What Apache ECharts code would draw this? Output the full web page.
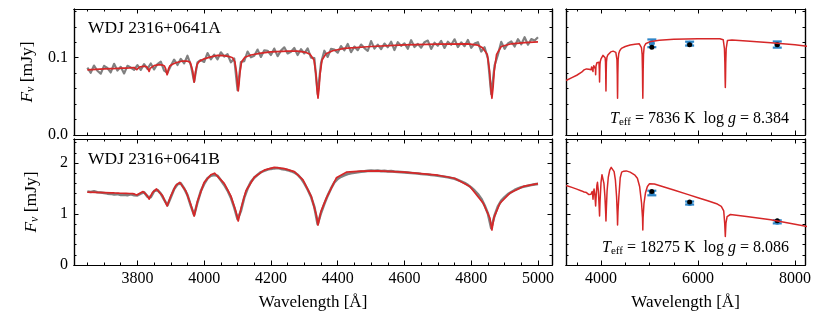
<!DOCTYPE html>
<html><head><meta charset="utf-8">
<script src="https://cdn.jsdelivr.net/npm/echarts@6/dist/echarts.min.js"></script>
<style>html,body{margin:0;padding:0;background:#fff}#c{width:830px;height:312px}</style>
</head><body><div id="c"></div>
<script>
const FONT = '"Liberation Serif", "DejaVu Serif", serif';

// ---------- DATA ----------
const labelA = 'WDJ 2316+0641A';
const labelB = 'WDJ 2316+0641B';
const fitA = { teff: '7836', logg: '8.384' };
const fitB = { teff: '18275', logg: '8.086' };

// observed spectra, wavelength grid 3650..5000 A, step 10 A
const obsWaveStart = 3650, obsWaveStep = 10;
const obsFluxA = [
 .0872,.0805,.0898,.0831,.0793,.0895,.0867,.0809,.0921,.0833,
 .0882,.0796,.0895,.0872,.0844,.0905,.0842,.0917,.0855,.0925,
 .0848,.0918,.0950,.0833,.0805,.0895,.0975,.0905,.0985,.0927,
 .1025,.0905,.0690,.0940,.0970,.0945,.1060,.0980,.1040,.0980,
 .1070,.1015,.1045,.0940,.0990,.0580,.0945,.0955,.1080,.1005,
 .1025,.1105,.1010,.1095,.1090,.1035,.1118,.1020,.1092,.1134,
 .1055,.1076,.1126,.1035,.1110,.1055,.1120,.1000,.0995,.0530,
 .0930,.1090,.1010,.1115,.1105,.1065,.1150,.1095,.1178,.1071,
 .1144,.1097,.1170,.1124,.1088,.1215,.1117,.1169,.1111,.1183,
 .1135,.1207,.1099,.1201,.1153,.1185,.1116,.1227,.1138,.1179,
 .1130,.1201,.1222,.1113,.1194,.1155,.1216,.1126,.1207,.1167,
 .1238,.1138,.1199,.1149,.1230,.1128,.1182,.1200,.1080,.1135,
 .0990,.0530,.0900,.1040,.1205,.1115,.1185,.1210,.1145,.1240,
 .1173,.1265,.1168,.1240,.1223,.1265];
const obsFluxB = [
 1.44,1.43,1.445,1.425,1.42,1.41,1.40,1.395,1.385,1.39,
 1.375,1.38,1.37,1.385,1.37,1.365,1.40,1.425,1.34,1.33,
 1.45,1.47,1.40,1.28,1.17,1.33,1.49,1.585,1.60,1.50,
 1.37,1.16,0.98,1.23,1.45,1.59,1.70,1.75,1.765,1.75,
 1.66,1.57,1.46,1.32,1.13,0.90,1.06,1.32,1.50,1.63,
 1.71,1.77,1.82,1.845,1.87,1.885,1.895,1.90,1.885,1.875,
 1.86,1.84,1.815,1.77,1.70,1.60,1.48,1.34,1.14,0.80,
 1.02,1.20,1.36,1.50,1.62,1.69,1.73,1.76,1.785,1.80,
 1.81,1.82,1.83,1.835,1.845,1.85,1.845,1.85,1.84,1.845,
 1.835,1.84,1.83,1.825,1.82,1.815,1.81,1.805,1.80,1.795,
 1.785,1.78,1.775,1.765,1.76,1.75,1.74,1.73,1.72,1.705,
 1.69,1.665,1.64,1.61,1.57,1.52,1.46,1.39,1.30,1.17,
 1.01,0.72,0.97,1.15,1.26,1.33,1.39,1.43,1.47,1.50,
 1.525,1.54,1.555,1.57,1.58,1.59];

// model spectra [wavelength, flux]
const modelA = [
 [3280,0.0705],[3400,0.0742],[3500,0.0773],[3600,0.0812],[3650,0.0842],[3700,0.0855],
 [3722,0.0858],[3725,0.0850],[3728,0.0859],[3734,0.0860],[3737,0.0850],[3740,0.0862],
 [3746,0.0863],[3750,0.0851],[3754,0.0864],[3766,0.0866],[3771,0.0850],[3776,0.0868],
 [3790,0.0873],[3795,0.0865],[3798,0.0845],[3801,0.0866],[3806,0.0880],[3822,0.0890],
 [3828,0.0883],[3832,0.0862],[3835,0.0822],[3838,0.0862],[3842,0.0885],[3850,0.0897],
 [3865,0.0910],[3875,0.0905],[3881,0.0893],[3885,0.0852],[3887,0.0808],[3889,0.0779],
 [3891,0.0808],[3893,0.0852],[3897,0.0893],[3905,0.0915],[3915,0.0935],[3935,0.0957],
 [3950,0.0955],[3958,0.0940],[3961,0.0915],[3965.5,0.0830],[3968,0.0745],[3970,0.0685],
 [3972,0.0745],[3974.5,0.0830],[3979,0.0915],[3985,0.0950],[4000,0.0985],[4020,0.1010],
 [4040,0.1030],[4060,0.1027],[4075,0.1015],[4085,0.1000],[4092,0.0946],[4097,0.0805],
 [4099.5,0.0665],[4102,0.0570],[4104.5,0.0665],[4107,0.0805],[4112,0.0946],[4122,0.1005],
 [4140,0.1035],[4170,0.1060],[4200,0.1075],[4250,0.1085],[4280,0.1085],[4305,0.1068],
 [4317,0.1045],[4329,0.0971],[4335,0.0785],[4338,0.0599],[4341,0.0476],[4344,0.0599],
 [4347,0.0785],[4353,0.0971],[4365,0.1050],[4385,0.1090],[4420,0.1120],[4500,0.1145],
 [4600,0.1165],[4700,0.1175],[4790,0.1180],[4820,0.1162],[4834,0.1130],[4848,0.1043],
 [4855,0.0830],[4858.5,0.0617],[4862,0.0475],[4865.5,0.0617],[4869,0.0830],[4876,0.1043],
 [4890,0.1145],[4920,0.1180],[4960,0.1195],[5000,0.1205],[5200,0.1225],[5500,0.1238],
 [6000,0.1245],[6450,0.1245],[6520,0.1232],[6545,0.1118],[6554,0.0930],[6558.5,0.0741],
 [6563,0.0615],[6567.5,0.0741],[6572,0.0930],[6581,0.1118],[6606,0.1222],[6700,0.1228],
 [7000,0.1215],[7500,0.1192],[8000,0.1168],[8250,0.1148]];
const modelB = [
 [3280,1.560],[3400,1.522],[3500,1.488],[3600,1.452],[3650,1.430],[3700,1.420],
 [3722,1.414],[3725,1.395],[3728,1.413],[3734,1.411],[3737,1.385],[3740,1.410],
 [3746,1.408],[3750,1.380],[3754,1.407],[3766,1.404],[3771,1.370],[3776,1.402],
 [3786,1.398],[3792,1.388],[3798,1.372],[3806,1.400],[3817,1.440],[3828,1.370],
 [3835,1.290],[3845,1.420],[3857,1.490],[3875,1.360],[3889,1.157],[3900,1.350],
 [3915,1.560],[3927,1.620],[3945,1.450],[3960,1.180],[3970,0.960],[3980,1.250],
 [4000,1.620],[4020,1.770],[4031,1.800],[4060,1.600],[4080,1.350],[4095,1.050],
 [4102,0.863],[4110,1.100],[4125,1.450],[4150,1.720],[4180,1.860],[4210,1.915],
 [4240,1.890],[4270,1.830],[4296,1.670],[4321,1.340],[4336,0.980],[4341,0.784],
 [4350,1.050],[4366,1.310],[4396,1.710],[4426,1.820],[4470,1.840],[4520,1.845],
 [4600,1.820],[4700,1.760],[4750,1.700],[4796,1.540],[4836,1.210],[4856,0.920],
 [4862,0.686],[4868,0.930],[4886,1.210],[4916,1.410],[4956,1.540],[5000,1.594],
 [5030,1.605],[5100,1.588],[5300,1.530],[5500,1.470],[5800,1.380],[6000,1.320],
 [6200,1.260],[6400,1.195],[6480,1.150],[6530,1.060],[6550,0.820],[6563,0.560],
 [6576,0.820],[6600,0.950],[6668,0.990],[7000,0.950],[7500,0.885],[8000,0.800],
 [8250,0.755]];

// photometry (observed with error, and synthetic)
const photWave = [5048, 5827, 7634];
const photObsA = [0.1186, 0.1182, 0.1170];
const photErrA = [0.0050, 0.0025, 0.0040];
const photSynA = [0.1134, 0.1166, 0.1166];
const photObsB = [1.411, 1.215, 0.846];
const photErrB = [0.045, 0.030, 0.030];
const photSynB = [1.443, 1.234, 0.866];

// axis ranges and ticks
const leftXRange = [3610, 5042];
const rightXRange = [3278, 8206];
const topYRange = [0, 0.163];
const botYRange = [0, 2.47];
const leftXTicks = [3800, 4000, 4200, 4400, 4600, 4800, 5000];
const leftXMinor = [3650,3700,3750,3850,3900,3950,4050,4100,4150,4250,4300,4350,4450,4500,4550,4650,4700,4750,4850,4900,4950];
const rightXTicks = [4000, 6000, 8000];
const rightXMinor = [3500, 4500, 5000, 5500, 6500, 7000, 7500];
const topYTicks = [0, 0.1];
const topYMinor = [0.02, 0.04, 0.06, 0.08, 0.12, 0.14, 0.16];
const botYTicks = [0, 1, 2];
const botYMinor = [0.2, 0.4, 0.6, 0.8, 1.2, 1.4, 1.6, 1.8, 2.2, 2.4];

// ---------- BUILD ----------
const RED = '#d62728', GRAY = '#808080', BLUE = '#2e86c8';
const grids = [
  { left: 74, top: 9, width: 478, height: 126 },
  { left: 566, top: 9, width: 239, height: 126 },
  { left: 74, top: 139, width: 478, height: 126 },
  { left: 566, top: 139, width: 239, height: 126 }
];
const xRanges = [leftXRange, rightXRange, leftXRange, rightXRange];
const xTicks = [leftXTicks, rightXTicks, leftXTicks, rightXTicks];
const xMinor = [leftXMinor, rightXMinor, leftXMinor, rightXMinor];
const yRanges = [topYRange, topYRange, botYRange, botYRange];
const yTicks = [topYTicks, topYTicks, botYTicks, botYTicks];
const yMinor = [topYMinor, topYMinor, botYMinor, botYMinor];

const MAJ = 4.5, MIN = 2.5;
function axisBase(grid, range, pos, ticks, len) {
  return {
    type: 'value', gridIndex: grid, min: range[0], max: range[1], position: pos,
    axisLine: { show: true, onZero: false, lineStyle: { color: '#000', width: 1.2 } },
    axisTick: { show: true, inside: true, length: len, customValues: ticks, lineStyle: { color: '#000', width: 1 } },
    axisLabel: { show: false, customValues: ticks },
    splitLine: { show: false }, minorTick: { show: false }
  };
}
const labelStyle = { color: '#000', fontFamily: FONT, fontSize: 16, margin: 6 };
const xAxes = [], yAxes = [], xMain = [], yMain = [];
for (let g = 0; g < 4; g++) {
  const xb = axisBase(g, xRanges[g], 'bottom', xTicks[g], MAJ);
  if (g >= 2) {
    xb.axisLabel = Object.assign({ show: true, customValues: xTicks[g], formatter: v => String(Math.round(v)) }, labelStyle);
    xb.name = 'Wavelength [Å]';
    xb.nameLocation = 'middle';
    xb.nameGap = 29;
    xb.nameTextStyle = { color: '#000', fontFamily: FONT, fontSize: 17 };
  }
  xMain.push(xAxes.length); xAxes.push(xb);
  xAxes.push(axisBase(g, xRanges[g], 'bottom', xMinor[g], MIN));
  xAxes.push(axisBase(g, xRanges[g], 'top', xTicks[g], MAJ));
  xAxes.push(axisBase(g, xRanges[g], 'top', xMinor[g], MIN));

  const yl = axisBase(g, yRanges[g], 'left', yTicks[g], MAJ);
  if (g === 0 || g === 2) {
    yl.axisLabel = Object.assign({ show: true, customValues: yTicks[g],
      formatter: g === 0 ? (v => v.toFixed(1)) : (v => String(Math.round(v))) }, labelStyle);
    yl.name = '{it|F}{sub|ν} [mJy]';
    yl.nameLocation = 'middle';
    yl.nameRotate = 90;
    yl.nameGap = 33;
    yl.nameTextStyle = { color: '#000', fontFamily: FONT, fontSize: 17.5, lineHeight: 20,
      rich: {
        it: { fontFamily: FONT, fontStyle: 'italic', fontSize: 17.5, lineHeight: 20 },
        sub: { fontFamily: FONT, fontStyle: 'italic', fontSize: 12, lineHeight: 12, verticalAlign: 'bottom' }
      } };
  }
  yMain.push(yAxes.length); yAxes.push(yl);
  yAxes.push(axisBase(g, yRanges[g], 'left', yMinor[g], MIN));
  yAxes.push(axisBase(g, yRanges[g], 'right', yTicks[g], MAJ));
  yAxes.push(axisBase(g, yRanges[g], 'right', yMinor[g], MIN));
}

const obsA = obsFluxA.map((f, i) => [obsWaveStart + i * obsWaveStep, f]);
const obsB = obsFluxB.map((f, i) => [obsWaveStart + i * obsWaveStep, f]);
const wMin = obsWaveStart, wMax = obsWaveStart + (obsFluxA.length - 1) * obsWaveStep;
const inObs = p => p[0] >= wMin && p[0] <= wMax;

function lineSeries(g, data, color, width) {
  return { type: 'line', xAxisIndex: xMain[g], yAxisIndex: yMain[g], data,
    showSymbol: false, symbol: 'none', animation: false, clip: true,
    lineStyle: { color, width, join: 'round' } };
}
function errSeries(g, obs, err) {
  return { type: 'custom', xAxisIndex: xMain[g], yAxisIndex: yMain[g], animation: false,
    data: photWave.map((w, i) => [w, obs[i], err[i]]),
    renderItem: function (params, api) {
      const x = api.value(0), y = api.value(1), e = api.value(2);
      const t = api.coord([x, y + e]), b = api.coord([x, y - e]);
      const cx = t[0], w = 4.5;
      const st = { stroke: BLUE, lineWidth: 2.2 };
      return { type: 'group', children: [
        { type: 'line', shape: { x1: cx, y1: t[1], x2: cx, y2: b[1] }, style: { stroke: BLUE, lineWidth: 2.5 } },
        { type: 'line', shape: { x1: cx - w, y1: t[1], x2: cx + w, y2: t[1] }, style: st },
        { type: 'line', shape: { x1: cx - w, y1: b[1], x2: cx + w, y2: b[1] }, style: st }
      ] };
    } };
}
function dotSeries(g, vals, color, size) {
  return { type: 'scatter', xAxisIndex: xMain[g], yAxisIndex: yMain[g], animation: false,
    symbol: 'circle', symbolSize: size, itemStyle: { color, opacity: 1 },
    data: photWave.map((w, i) => [w, vals[i]]) };
}

const series = [
  lineSeries(0, obsA, GRAY, 2.2),
  lineSeries(0, modelA.filter(inObs), RED, 1.7),
  lineSeries(1, modelA, RED, 1.5),
  errSeries(1, photObsA, photErrA),
  dotSeries(1, photObsA, BLUE, 6),
  dotSeries(1, photSynA, '#000', 5),
  lineSeries(2, obsB, GRAY, 2.6),
  lineSeries(2, modelB.filter(inObs), RED, 1.7),
  lineSeries(3, modelB, RED, 1.5),
  errSeries(3, photObsB, photErrB),
  dotSeries(3, photObsB, BLUE, 6),
  dotSeries(3, photSynB, '#000', 5)
];

const annRich = {
  it: { fontFamily: FONT, fontStyle: 'italic', fontSize: 16, lineHeight: 18 },
  sub: { fontFamily: FONT, fontSize: 11, lineHeight: 10, verticalAlign: 'bottom' },
  n: { fontFamily: FONT, fontSize: 16, lineHeight: 18 }
};
function annText(fit) {
  return '{it|T}{sub|eff}{n| = ' + fit.teff + ' K  log }{it|g}{n| = ' + fit.logg + '}';
}
const graphic = [
  { type: 'text', x: 88, y: 28, style: { text: labelA, fontFamily: FONT, fontSize: 17.5, fill: '#000', verticalAlign: 'middle' } },
  { type: 'text', x: 88, y: 159, style: { text: labelB, fontFamily: FONT, fontSize: 17.5, fill: '#000', verticalAlign: 'middle' } },
  { type: 'text', x: 789, y: 119, style: { text: annText(fitA), rich: annRich, fill: '#000', align: 'right', verticalAlign: 'middle', fontFamily: FONT, fontSize: 16 } },
  { type: 'text', x: 789, y: 248, style: { text: annText(fitB), rich: annRich, fill: '#000', align: 'right', verticalAlign: 'middle', fontFamily: FONT, fontSize: 16 } }
];

const chart = echarts.init(document.getElementById('c'), null, { renderer: 'canvas' });
chart.setOption({
  animation: false,
  backgroundColor: '#fff',
  grid: grids,
  xAxis: xAxes,
  yAxis: yAxes,
  series,
  graphic
});
</script></body></html>
